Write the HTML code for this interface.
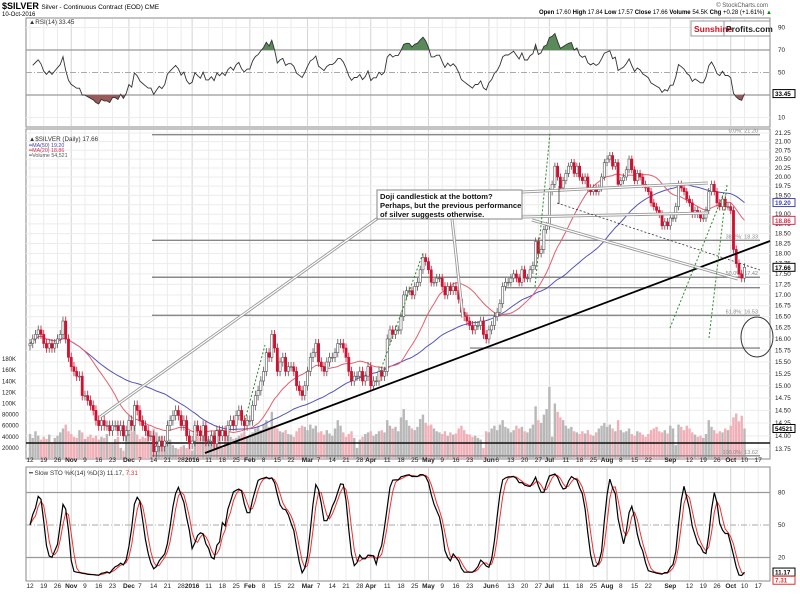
<!DOCTYPE html>
<html><head><meta charset="utf-8">
<style>
html,body{margin:0;padding:0;background:#fff;}
body{width:800px;height:591px;overflow:hidden;font-family:"Liberation Sans",sans-serif;}
svg text{font-family:"Liberation Sans",sans-serif;}
</style></head>
<body>
<svg id="chart" width="800" height="591" viewBox="0 0 800 591" xmlns="http://www.w3.org/2000/svg">
<g>
<text x="2" y="9" font-size="9" font-weight="bold" fill="#000">$SILVER <tspan font-weight="normal" font-size="6.5">Silver - Continuous Contract (EOD) CME</tspan></text>
<text x="2" y="16" font-size="6" fill="#000">10-Oct-2016</text>
<text x="768" y="7" font-size="6" fill="#555" text-anchor="end">© StockCharts.com</text>
<text x="772" y="14" font-size="6" fill="#000" text-anchor="end"><tspan font-weight="bold">Open</tspan> 17.60 <tspan font-weight="bold">High</tspan> 17.84 <tspan font-weight="bold">Low</tspan> 17.57 <tspan font-weight="bold">Close</tspan> 17.66 <tspan font-weight="bold">Volume</tspan> 54.5K <tspan font-weight="bold">Chg</tspan> +0.28 (+1.61%) <tspan fill="#080">▲</tspan></text>
</g>
<g id="grid"></g>
<g id="rsi"></g>
<g id="vol"></g>
<g id="ann1"></g>
<g id="ma"></g>
<g id="candles"></g>
<g id="ann2"></g>
<g id="sto"></g>
<g id="axes"></g>
<g>
<rect x="691" y="21" width="79" height="15" fill="#fff" stroke="#999" stroke-width="1"/>
<line x1="724" y1="21" x2="724" y2="36" stroke="#999"/>
<text x="694" y="32" font-size="8.5" font-weight="bold" fill="#d01020">Sunshine</text>
<text x="726" y="32" font-size="8.5" font-weight="bold" fill="#222">Profits.com</text>
</g>
</svg>
<script>
const closes=[
15.9,16.0,16.1,16.2,16.1, 15.9,15.8,15.9,15.8,15.9, 16.0,16.1,16.4,16.0,15.6,
15.4,15.3,15.2,15.2,14.8, 14.8,14.7,14.6,14.5,14.3, 14.2,14.3,14.2,14.2,14.1,
14.2,14.2,14.1,14.2,14.0, 14.1,14.3,14.2,14.6,14.5, 14.3,14.2,14.1,14.0,14.0,
13.7,13.8,13.9,13.8,13.9, 14.2,14.3,14.4,14.5,14.4, 14.2,14.3,14.0,13.85,13.9,
14.2,14.1,14.0,14.2,13.9, 13.9,14.0,13.85,14.1,14.0, 14.1,14.0,14.2,14.3,14.2,
14.4,14.5,14.3,14.2,14.3, 14.3,14.6,14.8,14.9,15.1, 15.3,15.7,15.6,16.1,15.8,
15.3,15.5,15.6,15.3,15.4, 15.4,15.3,15.0,14.9,14.8, 15.0,15.3,15.6,15.7,15.9,
15.5,15.4,15.3,15.5,15.6, 15.6,15.7,15.9,15.9,15.8, 15.6,15.3,15.1,15.2,15.2,
15.3,15.1,15.2,15.4,15.0, 15.1,15.1,15.3,15.2,15.3, 16.0,16.2,16.1,16.2,16.2,
16.5,17.0,17.1,17.1,17.0, 17.2,17.3,17.6,17.9,17.8, 17.6,17.3,17.3,17.4,17.4,
17.2,17.0,17.2,17.1,17.2, 17.1,16.9,16.6,16.5,16.4, 16.3,16.2,16.3,16.3,16.4,
16.1,16.0,16.2,16.3,16.5, 16.6,16.8,17.2,17.3,17.3, 17.4,17.5,17.4,17.3,17.6,
17.4,17.4,17.6,17.7,18.3, 18.0,18.1,18.6,18.7,19.6, 19.8,20.3,20.0,19.7,19.9,
20.1,20.3,20.4,20.1,20.3, 20.0,19.9,20.0,19.7,19.6, 19.7,19.6,19.7,20.0,20.4,
20.5,20.6,20.3,20.4,19.8, 19.9,20.0,20.2,20.5,20.2, 19.9,20.1,20.0,19.8,19.7,
19.6,19.3,19.2,19.1,19.0, 18.7,18.8,18.7,18.9,18.9, 19.2,19.8,19.7,19.6,19.4,
19.3,19.0,19.1,19.0,18.9, 18.9,19.1,19.6,19.8,19.6, 19.3,19.2,19.4,19.2,19.2,
19.1,18.1,17.75,17.5,17.4, 17.66];
const volumesK=[
45,38,50,42,35, 40,36,44,30,38, 42,48,55,62,50, 45,40,38,52,48, 36,40,44,38,42,
35,40,38,45,30, 28,36,40,20,15, 42,45,50,60,44, 36,40,38,42,30, 55,48,40,42,28,
30,35,25,20,18, 22,25,20,28,15, 40,45,38,50,42, 36,44,48,40,45, 20,42,48,40,36,
38,42,46,50,40, 44,48,55,60,52, 62,70,58,85,60, 55,50,48,52,45, 44,40,50,56,60,
58,52,62,55,60, 48,50,44,52,46, 42,55,70,60,48, 40,45,50,38,20, 35,40,45,48,50,
42,45,50,52,48, 70,60,55,58,50, 75,90,70,60,55, 52,58,72,80,65, 60,62,55,50,48,
45,50,42,48,44, 46,55,60,52,45, 44,40,42,38,35, 20,50,48,55,60, 52,62,70,58,55,
48,52,60,55,58, 50,48,55,62,95, 70,65,80,90,130, 40,100,85,75,70, 60,55,58,50,48,
45,50,46,52,44, 42,48,55,60,65, 58,62,55,50,70, 52,48,50,55,45, 42,50,48,44,40,
45,52,55,58,50, 48,52,46,60,55, 25,62,58,52,60, 55,48,44,40,42, 38,45,70,58,52,
46,50,48,55,52, 60,75,82,68,78, 55];
const priceTicks=[21.25,21.00,20.75,20.50,20.25,20.00,19.75,19.50,19.25,19.00,18.75,18.50,18.25,18.00,17.75,17.50,17.25,17.00,16.75,16.50,16.25,16.00,15.75,15.50,15.25,15.00,14.75,14.50,14.25,14.00,13.75];
const volTicks=[20000,40000,60000,80000,100000,120000,140000,160000,180000];
const volTickLabels=["20000","40000","60000","80000","100K","120K","140K","160K","180K"];
const rsiTicks=[90,70,50,30,10];
const stoTicks=[80,50,20];
const fibLevels=[21.20,18.33,17.42,16.53,13.62];
const fibLabels=["0.0%: 21.20","38.2%: 18.33","50.0%: 17.42","61.8%: 16.53","100.0%: 13.62"];

const NS="http://www.w3.org/2000/svg";
const L=26,R=770;
const X0=30,DX=2.748;
function x(i){return X0+i*DX;}
const LN=Math.log(21.25);
function py(p){return 133+(LN-Math.log(p))*725.8;}
function vy(v){return 459-v/20000*11.1;}
function ry(v){return 95-(v-30)*1.125;}
function sy(v){return 525-(v-50)*1.083;}
function mk(parent,tag,attrs){const e=document.createElementNS(NS,tag);for(const k in attrs)e.setAttribute(k,attrs[k]);document.getElementById(parent).appendChild(e);return e;}

const panels=[[18,127],[129,459],[467,581]];
panels.forEach((p,pi)=>{
  const r=mk('grid','rect',{x:L,y:p[0],width:R-L,height:p[1]-p[0],fill:'#fff',stroke:'#888','stroke-width':1});
  
  
});
const start=new Date(2015,9,12);
const dates=[];{let d=new Date(start);while(dates.length<275){const w=d.getDay();if(w>0&&w<6)dates.push(new Date(d));d.setDate(d.getDate()+1);}}
const mnames=["2016","Feb","Mar","Apr","May","Jun","Jul","Aug","Sep","Oct","Nov","Dec"];
const xticks=[];
for(let i=0;i<dates.length;i++){
  const d=dates[i];
  const newMonth=i>0&&d.getMonth()!==dates[i-1].getMonth();
  if(newMonth){xticks.push([i,mnames[d.getMonth()],true]);}
  else if(d.getDay()===1){
    let near=false;
    for(let j=Math.max(1,i-2);j<=Math.min(dates.length-1,i+3);j++){if(dates[j].getMonth()!==dates[j-1].getMonth())near=true;}
    if(!near)xticks.push([i,String(d.getDate()),false]);
  }
}
xticks.forEach(t=>{
  const xx=x(t[0]);
  if(xx>R)return;
  panels.forEach(p=>{
    const g=mk('grid','line',{x1:xx,x2:xx,y1:p[0]+1,y2:p[1]-1,stroke:t[2]?'#d4d4d4':'#ececec','stroke-width':1});
    
    
  });
  [462,588].forEach(yy=>{
    const tx=mk('axes','text',{x:xx,y:yy,'font-size':6.5,'text-anchor':'middle',fill:'#222','font-weight':t[2]?'bold':'normal'});
    tx.textContent=t[1];
    
    
  });
});
priceTicks.forEach(p=>{
  const yy=py(p);
  const g=mk('grid','line',{x1:L,x2:R,y1:yy,y2:yy,stroke:'#ececec','stroke-width':1});
  
  
  const t=mk('axes','text',{x:775,y:yy+2,'font-size':6.3,fill:'#222'});
  t.textContent=p.toFixed(2);
  
  
});
volTicks.forEach((v,k)=>{
  const t=mk('axes','text',{x:2,y:vy(v)+2,'font-size':6,fill:'#222'});
  t.textContent=volTickLabels[k];
  
  
});
rsiTicks.forEach(v=>{
  const yy=ry(v);
  const isMain=(v===70||v===30);
  const g=mk('rsi','line',{x1:L,x2:R,y1:yy,y2:yy,stroke:isMain?'#999':(v===50?'#aaa':'#ececec'),'stroke-width':isMain?1.3:1,'stroke-dasharray':v===50?'6,2,1,2':'none'});
  
  
  const t=mk('axes','text',{x:778,y:yy+2,'font-size':6.3,fill:'#222'});
  t.textContent=String(v);
  
  
});
const rsi=[];{let ag=0.07,al=0.06;for(let i=1;i<closes.length;i++){const ch=closes[i]-closes[i-1];const g=Math.max(ch,0),l=Math.max(-ch,0);ag=(ag*13+g)/14;al=(al*13+l)/14;rsi[i]=al===0?100:100-100/(1+ag/al);}}
let rp='';for(let i=1;i<closes.length;i++){rp+=(rp?'L':'M')+x(i).toFixed(1)+','+ry(rsi[i]).toFixed(1);}
const defs=mk('rsi','defs',{});
const c1=document.createElementNS(NS,'clipPath');c1.setAttribute('id','above70');const c1r=document.createElementNS(NS,'rect');c1r.setAttribute('x',L);c1r.setAttribute('y',18);c1r.setAttribute('width',R-L);c1r.setAttribute('height',ry(70)-18);c1.appendChild(c1r);defs.appendChild(c1);
const c2=document.createElementNS(NS,'clipPath');c2.setAttribute('id','below30');const c2r=document.createElementNS(NS,'rect');c2r.setAttribute('x',L);c2r.setAttribute('y',ry(30));c2r.setAttribute('width',R-L);c2r.setAttribute('height',127-ry(30));c2.appendChild(c2r);defs.appendChild(c2);
const a1=mk('rsi','path',{d:rp+'L'+x(closes.length-1)+','+ry(70)+'L'+x(1)+','+ry(70)+'Z',fill:'#5a8a5a','clip-path':'url(#above70)'});


const a2=mk('rsi','path',{d:rp+'L'+x(closes.length-1)+','+ry(30)+'L'+x(1)+','+ry(30)+'Z',fill:'#9a5a5a','clip-path':'url(#below30)'});


const rl=mk('rsi','path',{d:rp,fill:'none',stroke:'#333','stroke-width':0.9});


for(let i=0;i<volumesK.length;i++){
  const v=volumesK[i]*1000;const up=i===0||closes[i]>=closes[i-1];
  const b=mk('vol','rect',{x:x(i)-1.2,y:vy(v),width:2.4,height:459-vy(v),fill:up?'#b8b8b8':'#f0b0b8'});
  
  
}
function ln(g,name,x1,y1,x2,y2,st,w,dash){const e=mk(g,'line',{x1:x1,y1:y1,x2:x2,y2:y2,stroke:st,'stroke-width':w,'stroke-dasharray':dash||'none'});return e;}
fibLevels.forEach((f,k)=>{
  ln('ann1','fib-level-line',152,py(f),R-10,py(f),'#888',1.4);
  const t=mk('ann1','text',{x:R-12,y:py(f)-2,'font-size':5.5,fill:'#888','text-anchor':'end'});
  t.textContent=fibLabels[k];
  
  
});
ln('ann1','support-line',470,py(15.80),R-10,py(15.80),'#888',1.4);
ln('ann1','support-line',505,py(17.17),R-10,py(17.17),'#888',1.4);
ln('ann1','volume-baseline',L,443,R,443,'#111',1.4);
function ma(n){const out=[];for(let i=0;i<closes.length;i++){const s=Math.max(0,i-n+1);let sum=0;for(let j=s;j<=i;j++)sum+=closes[j];out.push(sum/(i-s+1));}return out;}
const ma50=ma(50),ma20=ma(20);
function pathOf(arr,f,s){let d='';for(let i=s;i<arr.length;i++)d+=(d?'L':'M')+x(i).toFixed(1)+','+f(arr[i]).toFixed(1);return d;}
const m50=mk('ma','path',{d:pathOf(ma50,py,0),fill:'none',stroke:'#5555b5','stroke-width':1});


const m20=mk('ma','path',{d:pathOf(ma20,py,0),fill:'none',stroke:'#e06070','stroke-width':1});


for(let i=0;i<closes.length;i++){
  const o=i===0?closes[0]-0.05:closes[i-1],c=closes[i];const up=c>=o;
  const hi=Math.max(o,c)+0.1,lo=Math.min(o,c)-0.1;
  const w=mk('candles','line',{x1:x(i),x2:x(i),y1:py(hi),y2:py(lo),stroke:up?'#555':'#d01030','stroke-width':0.8});
  
  
  const top=py(Math.max(o,c)),bot=py(Math.min(o,c));
  const b=mk('candles','rect',{x:x(i)-1.1,y:top,width:2.2,height:Math.max(bot-top,0.8),fill:up?'#fff':'#d01030',stroke:up?'#555':'#d01030','stroke-width':0.6});
  
  
}
ln('ann2','trend-line',205,453,R,241,'#000',1.8);
function dbl(name,x1,y1,x2,y2){ln('ann2',name,x1,y1,x2,y2,'#999',3);ln('ann2',name+'-inner',x1,y1,x2,y2,'#fff',1.2);}
dbl('callout-line',100,417,378,218);
dbl('callout-line',452,219,463,318);
dbl('callout-line',522,192,708,183);
dbl('callout-line',522,217,708,213);
dbl('callout-line',532,220,738,279);
ln('ann2','dashed-trend-line',557,203,R-10,270,'#333',0.8,'2,2');
ln('ann2','vertical-marker',559,186,559,204,'#333',0.8);
ln('ann2','green-dotted-line',380,372,423,253,'#2a8a2a',1,'2,2');
ln('ann2','green-dotted-line',535,287,550,133,'#2a8a2a',1,'2,2');
ln('ann2','green-dotted-line',670,328,725,190,'#2a8a2a',1,'2,2');
ln('ann2','green-dotted-line',709,338,727,185,'#2a8a2a',1,'2,2');
ln('ann2','green-dotted-line',245,420,265,345,'#2a8a2a',1,'2,2');
const el=mk('ann2','ellipse',{cx:757,cy:337,rx:16,ry:20,fill:'none',stroke:'#333','stroke-width':1});


const box=mk('ann2','rect',{x:377,y:190,width:145,height:29,fill:'#fff',stroke:'#999','stroke-width':1.2});


["Doji candlestick at the bottom?","Perhaps, but the previous performance","of silver suggests otherwise."].forEach((s,k)=>{
  const t=mk('ann2','text',{x:380,y:199+k*9,'font-size':7.6,'font-weight':'bold',fill:'#111'});
  t.textContent=s;
  
  
});
const legends=[[18,'RSI(14) 33.45','#333',22],[135,'$SILVER (Daily) 17.66','#333',20],[141,'MA(50) 19.20','#44a',0],[146,'MA(20) 18.86','#d03050',0],[151,'Volume 54,521','#555',0]];
legends.forEach(l=>{
  const t=mk('axes','text',{x:29,y:l[0]+6,'font-size':l[3]?6.3:5.3,fill:l[2]});
  t.textContent=(l[3]?'▲':'━')+l[1];
  
  
});
function vbox(yy,txt,col){const r=mk('axes','rect',{x:773,y:yy-4,width:22,height:8,fill:'#fff',stroke:col,'stroke-width':1});const t=mk('axes','text',{x:775,y:yy+2.5,'font-size':6.3,fill:col,'font-weight':'bold'});t.textContent=txt;}
vbox(py(closes[closes.length-1]),'17.66','#000');
vbox(py(ma50[ma50.length-1]),'19.20','#44a');
vbox(py(ma20[ma20.length-1]),'18.86','#d03050');
vbox(vy(volumesK[volumesK.length-1]*1000),'54521','#000');
vbox(ry(rsi[rsi.length-1]),'33.45','#000');
const fastK=[];for(let i=0;i<closes.length;i++){const s=Math.max(0,i-13);let hh=-1e9,ll=1e9;for(let j=s;j<=i;j++){hh=Math.max(hh,closes[j]+0.08);ll=Math.min(ll,closes[j]-0.08);}fastK.push((closes[i]-ll)/(hh-ll)*100);}
function sma(a,n){return a.map((v,i)=>{const s=Math.max(0,i-n+1);let t=0;for(let j=s;j<=i;j++)t+=a[j];return t/(i-s+1);});}
const slowK=sma(fastK,3),slowD=sma(slowK,3);
stoTicks.forEach(v=>{
  const g=mk('sto','line',{x1:L,x2:R,y1:sy(v),y2:sy(v),stroke:v===50?'#aaa':'#999','stroke-width':v===50?1:1.3,'stroke-dasharray':v===50?'6,2,1,2':'none'});
  
  
  const t=mk('axes','text',{x:778,y:sy(v)+2,'font-size':6.3,fill:'#222'});
  t.textContent=String(v);
  
  
});
const sd=mk('sto','path',{d:pathOf(slowD,sy,0),fill:'none',stroke:'#f03030','stroke-width':1});


const sk=mk('sto','path',{d:pathOf(slowK,sy,0),fill:'none',stroke:'#000','stroke-width':1.2});


const stl=mk('axes','text',{x:29,y:475,'font-size':6.3,fill:'#333'});
stl.textContent='━ Slow STO %K(14) %D(3) 11.17, ';


const ts=document.createElementNS(NS,'tspan');ts.setAttribute('fill','#e03030');ts.textContent='7.31';stl.appendChild(ts);
vbox(sy(slowK[slowK.length-1]),'11.17','#000');
vbox(sy(slowD[slowD.length-1])+6,'7.31','#e03030');
</script>
</body></html>
